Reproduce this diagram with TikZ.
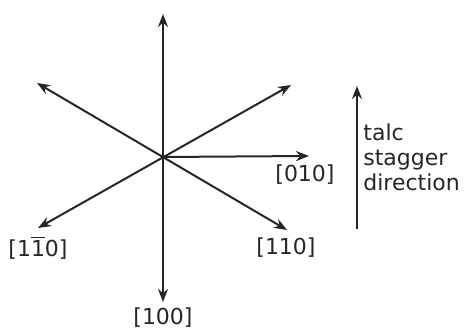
\documentclass[tikz,border=0pt]{standalone}
\usepackage{fontspec}
\setmainfont{DejaVu Sans}
\usepackage{tikz}
\usetikzlibrary{arrows.meta, positioning}
\tikzset{
  axis/.style={{Stealth[length=6.5pt, width=5pt]}-{Stealth[length=6.5pt, width=5pt]}, draw=black!85, line width=1pt},
  ray/.style={-{Stealth[length=6.5pt, width=5pt]}, draw=black!85, line width=1pt},
  lbl/.style={font=\fontsize{11}{12.5}\selectfont, text=black!85, inner sep=0pt},
  note/.style={lbl, align=left, anchor=west}
}

\begin{document}
\begin{tikzpicture}[x=0.5pt, y=-0.5pt]
  \useasboundingbox (0,0) rectangle (471,331);
  \coordinate (o) at (163,157);
  \coordinate (n) at (163,14);
  \coordinate (s) at (163,302);
  \coordinate (nw) at (37,83);
  \coordinate (se) at (287,230);
  \coordinate (ne) at (291,85);
  \coordinate (sw) at (38,228);
  \coordinate (e) at (309,156);
  \coordinate (tbot) at (357,229);
  \coordinate (ttop) at (357,86);

  \node[lbl] (l010) at (305,175) {[010]};
  \node[lbl] (l1b10) at (38,248) {[1$\overline{\hbox{1}}$0]};
  \node[lbl] (l110) at (286,248) {[110]};
  \node[lbl] (l100) at (163,318) {[100]};
  \node[note] (talc) at (363,157) {talc\\stagger\\direction};

  \draw[axis] (n) -- (s);
  \draw[axis] (nw) -- (se);
  \draw[axis] (ne) -- (sw);
  \draw[ray] (o) -- (e);
  \draw[ray] (tbot) -- (ttop);
\end{tikzpicture}
\end{document}
